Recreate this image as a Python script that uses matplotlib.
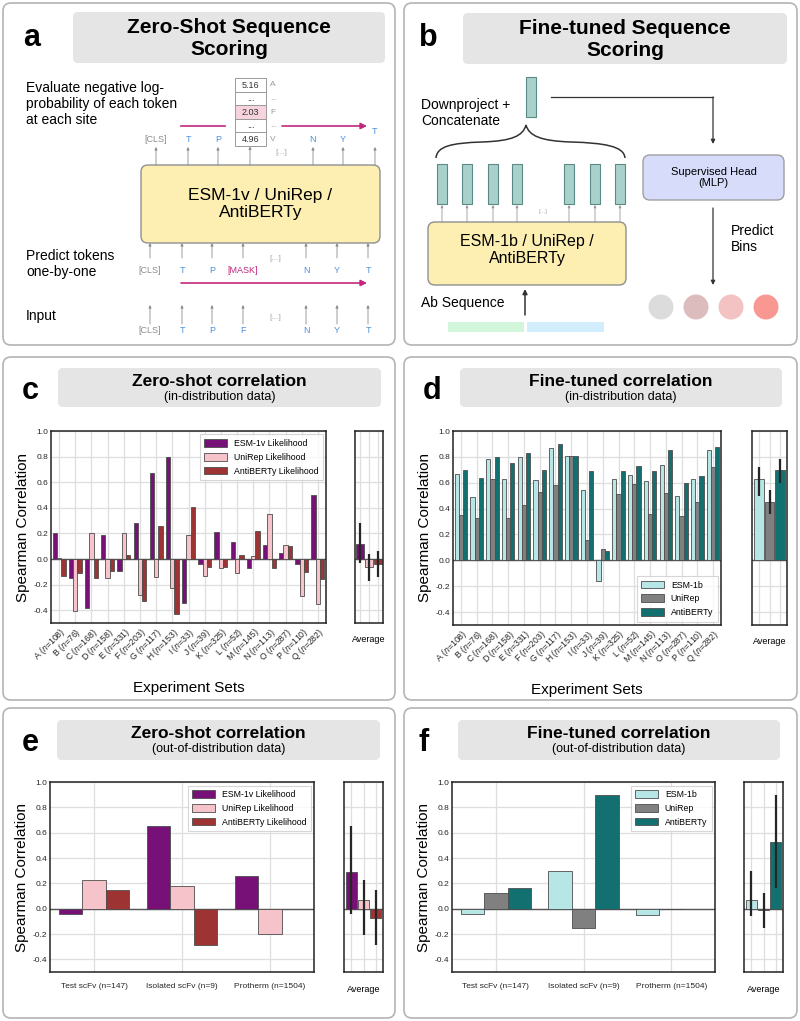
import numpy as np
import matplotlib
matplotlib.use("Agg")
import matplotlib.pyplot as plt
from matplotlib.patches import FancyBboxPatch, Rectangle, Circle, PathPatch
from matplotlib.path import Path

plt.rcParams['font.family'] = ['Liberation Sans', 'DejaVu Sans']
plt.rcParams['mathtext.fontset'] = 'custom'
plt.rcParams['mathtext.rm'] = 'Liberation Sans'
plt.rcParams['mathtext.it'] = 'Liberation Sans:italic'
plt.rcParams['axes.unicode_minus'] = False

# ---------------- data ----------------
exp_sets = ['A ($n$=108)', 'B ($n$=76)', 'C ($n$=168)', 'D ($n$=158)', 'E ($n$=331)',
            'F ($n$=203)', 'G ($n$=117)', 'H ($n$=153)', 'I ($n$=33)', 'J ($n$=39)',
            'K ($n$=325)', 'L ($n$=52)', 'M ($n$=145)', 'N ($n$=113)', 'O ($n$=287)',
            'P ($n$=110)', 'Q ($n$=282)']

zs_names = ['ESM-1v Likelihood', 'UniRep Likelihood', 'AntiBERTy Likelihood']
ft_names = ['ESM-1b', 'UniRep', 'AntiBERTy']

zs_esm = [0.20, -0.15, -0.38, 0.19, -0.09, 0.28, 0.67, 0.80, -0.34, -0.04, 0.21, 0.13, -0.07, 0.11, 0.05, -0.04, 0.50]
zs_uni = [0.005, -0.41, 0.20, -0.15, 0.20, -0.28, -0.14, -0.23, 0.19, -0.13, -0.07, -0.11, 0.02, 0.35, 0.11, -0.29, -0.35]
zs_anti = [-0.13, -0.11, -0.15, -0.09, 0.03, -0.33, 0.26, -0.43, 0.41, -0.06, -0.06, 0.03, 0.22, -0.07, 0.10, -0.10, -0.16]
zs_avg = [0.12, -0.06, -0.04]
zs_avg_lo = [-0.03, -0.17, -0.14]
zs_avg_hi = [0.28, 0.04, 0.06]

ft_esm = [0.67, 0.49, 0.78, 0.63, 0.80, 0.62, 0.87, 0.81, 0.54, -0.16, 0.63, 0.66, 0.61, 0.74, 0.50, 0.63, 0.85]
ft_uni = [0.35, 0.33, 0.63, 0.33, 0.43, 0.53, 0.58, 0.81, 0.16, 0.09, 0.51, 0.59, 0.36, 0.52, 0.34, 0.45, 0.72]
ft_anti = [0.70, 0.64, 0.80, 0.75, 0.83, 0.70, 0.90, 0.81, 0.69, 0.07, 0.69, 0.73, 0.69, 0.85, 0.60, 0.65, 0.88]
ft_avg = [0.63, 0.45, 0.70]
ft_avg_lo = [0.50, 0.36, 0.60]
ft_avg_hi = [0.72, 0.54, 0.78]

ood_sets = ['Test scFv (n=147)', 'Isolated scFv (n=9)', 'Protherm (n=1504)']
ood_zs_esm = [-0.04, 0.65, 0.26]
ood_zs_uni = [0.23, 0.18, -0.20]
ood_zs_anti = [0.145, -0.29, np.nan]
ood_zs_avg = [0.29, 0.07, -0.07]
ood_zs_avg_lo = [-0.04, -0.21, -0.29]
ood_zs_avg_hi = [0.65, 0.23, 0.15]

ood_ft_esm = [-0.04, 0.30, -0.05]
ood_ft_uni = [0.12, -0.15, -0.005]
ood_ft_anti = [0.16, 0.90, np.nan]
ood_ft_avg = [0.07, -0.01, 0.53]
ood_ft_avg_lo = [-0.06, -0.15, 0.16]
ood_ft_avg_hi = [0.30, 0.12, 0.90]

yticks = [-0.4, -0.2, 0.0, 0.2, 0.4, 0.6, 0.8, 1.0]

zs_colors = ['#771077', '#f7c3cb', '#9e3333']
ft_colors = ['#b7e6e6', '#808080', '#137070']

# ---------------- figure ----------------
W, H = 800, 1021
fig = plt.figure(figsize=(W / 100, H / 100), dpi=100)
bg = fig.add_axes([0, 0, 1, 1], zorder=0)
bg.set_xlim(0, W)
bg.set_ylim(H, 0)
bg.axis('off')


def px_axes(l, t, r, b):
    return fig.add_axes([l / W, 1 - b / H, (r - l) / W, (b - t) / H], zorder=2)


def rbox(x0, y0, x1, y1, fc='none', ec='#b4b4b4', lw=1.2, r=8, z=1):
    p = FancyBboxPatch((x0, y0), x1 - x0, y1 - y0,
                       boxstyle=f'round,pad=0,rounding_size={r}',
                       fc=fc, ec=ec, lw=lw, zorder=z)
    bg.add_patch(p)


def arrow(x0, y0, x1, y1, color='#8c8c8c', lw=0.8, ms=6):
    bg.annotate('', xy=(x1, y1), xytext=(x0, y0),
                arrowprops=dict(arrowstyle='-|>', color=color, lw=lw,
                                mutation_scale=ms, shrinkA=0, shrinkB=0))


# panel frames
for (x0, y0, x1, y1) in [(3, 3, 395, 345), (404, 3, 797, 345),
                         (3, 357, 395, 700), (404, 357, 797, 700),
                         (3, 708, 395, 1018), (404, 708, 797, 1018)]:
    rbox(x0, y0, x1, y1)

# headers
hdr = [
    ((73, 12, 385, 63), 'a', (32, 38), 'Zero-Shot Sequence\nScoring', None),
    ((463, 13, 787, 64), 'b', (428, 38), 'Fine-tuned Sequence\nScoring', None),
    ((58, 368, 381, 407), 'c', (30, 391), 'Zero-shot correlation', '(in-distribution data)'),
    ((460, 368, 782, 407), 'd', (432, 391), 'Fine-tuned correlation', '(in-distribution data)'),
    ((57, 720, 380, 760), 'e', (30, 743), 'Zero-shot correlation', '(out-of-distribution data)'),
    ((458, 720, 780, 760), 'f', (424, 743), 'Fine-tuned correlation', '(out-of-distribution data)'),
]
for (x0, y0, x1, y1), lab, (lx, ly), title, sub in hdr:
    rbox(x0, y0, x1, y1, fc='#e5e5e5', ec='none', r=5)
    bg.text(lx, ly, lab, fontsize=22, fontweight='bold', ha='center', va='center')
    cx = (x0 + x1) / 2
    if sub is None:
        bg.text(cx, (y0 + y1) / 2 + 1, title, fontsize=15, fontweight='bold',
                ha='center', va='center', linespacing=1.15)
    else:
        bg.text(cx, y0 + 13.5, title, fontsize=12.5, fontweight='bold', ha='center', va='center')
        bg.text(cx, y0 + 29, sub, fontsize=9, ha='center', va='center')

# ---------------- panel a diagram ----------------
MAG = '#c2287e'
BLUE = '#4a90d9'
GRAY = '#8c8c8c'
bg.text(26, 104, 'Evaluate negative log-\nprobability of each token\nat each site',
        fontsize=10, ha='left', va='center', linespacing=1.15)
# score column
rows = ['5.16', '...', '2.03', '...', '4.96']
side = ['A', '...', 'F', '...', 'V']
for i, (v, s) in enumerate(zip(rows, side)):
    y0 = 78 + i * 13.6
    fc = '#f7d3de' if i == 2 else 'white'
    bg.add_patch(Rectangle((235, y0), 31, 13.6, fc=fc, ec='#9a9a9a', lw=0.7, zorder=3))
    bg.text(250.5, y0 + 7, v, fontsize=6.5, ha='center', va='center', zorder=4,
            color='#333333')
    bg.text(270, y0 + 7, s, fontsize=6, ha='left', va='center', color='#9a9a9a')
# magenta arrow above
bg.plot([181, 225], [126, 126], color=MAG, lw=1.2)
arrow(282, 126, 367, 126, color=MAG, lw=1.2, ms=9)
# output tokens
top_x = [156, 188, 218, 250, 313, 343, 375]
top_tok = ['[CLS]', 'T', 'P', None, 'N', 'Y', 'T']
for x, t in zip(top_x, top_tok):
    if t is not None:
        yy = 132 if (x == 375) else 140
        bg.text(x, yy, t, fontsize=6.5, ha='center', va='center',
                color=GRAY if t == '[CLS]' else BLUE)
    arrow(x, 165, x, 147 if x != 250 else 146.5, lw=0.6, ms=4)
bg.text(281, 152, '[...]', fontsize=6, ha='center', va='center', color='#aaaaaa')
# model box
rbox(141, 165, 380, 243, fc='#fdefb2', ec='#8f8f8f', lw=1.0, r=7, z=2)
bg.text(260.5, 204, 'ESM-1v / UniRep /\nAntiBERTy', fontsize=12.5, ha='center',
        va='center', zorder=3, linespacing=1.15)
# predict row
bot_x = [150, 182, 212, 243, 306, 337, 368]
mid_tok = ['[CLS]', 'T', 'P', '[MASK]', 'N', 'Y', 'T']
in_tok = ['[CLS]', 'T', 'P', 'F', 'N', 'Y', 'T']
for x, t, s in zip(bot_x, mid_tok, in_tok):
    arrow(x, 258, x, 243, lw=0.6, ms=4)
    c = GRAY if t == '[CLS]' else (MAG if t == '[MASK]' else BLUE)
    bg.text(x, 270, t, fontsize=6.5, ha='center', va='center', color=c)
    arrow(x, 324, x, 305, lw=0.6, ms=4)
    bg.text(x, 330, s, fontsize=6.5, ha='center', va='center',
            color=GRAY if s == '[CLS]' else BLUE)
bg.text(275, 258, '[...]', fontsize=6, ha='center', va='center', color='#aaaaaa')
bg.text(275, 317, '[...]', fontsize=6, ha='center', va='center', color='#aaaaaa')
arrow(181, 283, 367, 283, color=MAG, lw=1.2, ms=9)
bg.text(26, 264, 'Predict tokens\none-by-one', fontsize=10, ha='left', va='center',
        linespacing=1.15)
bg.text(26, 316, 'Input', fontsize=10, ha='left', va='center')

# ---------------- panel b diagram ----------------
TEALF = '#a9d1cc'
TEALE = '#5b8a86'
bg.add_patch(Rectangle((526, 77), 10, 40, fc=TEALF, ec=TEALE, lw=0.8))
bg.text(421, 113, 'Downproject +\nConcatenate', fontsize=10, ha='left', va='center',
        linespacing=1.15)
bg.plot([551, 713], [97, 97], color='#333333', lw=0.9)
arrow(713, 97, 713, 144, color='#333333', lw=0.9, ms=6)
# brace
verts = [(436, 158), (437, 146), (452, 143), (482, 142),
         (512, 141), (523, 136), (526, 125),
         (529, 136), (541, 141), (571, 142),
         (604, 143), (624, 146), (625, 158)]
codes = [Path.MOVETO] + [Path.CURVE4] * 12
bg.add_patch(PathPatch(Path(verts, codes), fc='none', ec='#333333', lw=1.1))
emb_x = [442, 467, 493, 517, 569, 595, 620]
for x in emb_x:
    bg.add_patch(Rectangle((x - 5, 164), 10, 40, fc=TEALF, ec=TEALE, lw=0.8))
    arrow(x, 222, x, 205, lw=0.6, ms=3.5, color='#9a9a9a')
bg.text(543, 211, '[...]', fontsize=4.5, ha='center', va='center', color='#aaaaaa')
rbox(428, 222, 626, 285, fc='#fdefb2', ec='#8f8f8f', lw=1.0, r=7, z=2)
bg.text(527, 250, 'ESM-1b / UniRep /\nAntiBERTy', fontsize=11.5, ha='center', va='center',
        zorder=3, linespacing=1.1)
bg.text(421, 303, 'Ab Sequence', fontsize=10, ha='left', va='center')
arrow(525, 315, 525, 289, color='#333333', lw=1.1, ms=7)
bg.add_patch(Rectangle((448, 322), 76, 10, fc='#d2f6db', ec='none'))
bg.add_patch(Rectangle((527, 322), 77, 10, fc='#d2edfb', ec='none'))
rbox(643, 155, 784, 200, fc='#d6dcfa', ec='#a0a0a0', lw=1.0, r=7, z=2)
bg.text(713.5, 177.5, 'Supervised Head\n(MLP)', fontsize=8, ha='center', va='center',
        zorder=3, linespacing=1.1)
arrow(713, 208, 713, 285, color='#333333', lw=0.9, ms=6)
bg.text(731, 239, 'Predict\nBins', fontsize=10, ha='left', va='center', linespacing=1.15)
for x, c in zip([661, 696, 731, 766], ['#dcdcdc', '#dcbcbc', '#f3c3c3', '#f99893']):
    bg.add_patch(Circle((x, 307), 12.5, fc=c, ec='none'))


# ---------------- charts ----------------
def style_ax(ax):
    ax.set_facecolor('white')
    ax.set_ylim(-0.5, 1.0)
    ax.set_yticks(yticks)
    ax.grid(True, color='#dedede', lw=0.9)
    ax.set_axisbelow(True)
    for s in ax.spines.values():
        s.set_color('#222222')
        s.set_linewidth(1.1)
    ax.tick_params(length=0, labelsize=6, pad=2, colors='#262626')
    ax.axhline(0, color='#555555', lw=1.0, zorder=1.5)


def main_chart(ax, labels, series, colors, names, rot, legend_loc):
    style_ax(ax)
    x = np.arange(len(labels))
    w = 0.8 / len(series)
    for i, (vals, c, nm) in enumerate(zip(series, colors, names)):
        ax.bar(x + (i - 1) * w, vals, w, color=c, edgecolor='#4d4d4d', lw=0.6,
               label=nm, zorder=2)
    ax.set_xlim(-0.5, len(labels) - 0.5)
    ax.set_xticks(x)
    if rot:
        ax.set_xticklabels(labels, rotation=45, ha='right', rotation_mode='anchor')
        ax.tick_params(axis='x', labelsize=6.3)
    else:
        ax.set_xticklabels(labels)
        ax.tick_params(axis='x', pad=8)
    ax.set_ylabel('Spearman Correlation', fontsize=11, labelpad=3)
    leg = ax.legend(loc=legend_loc, fontsize=6.3, frameon=True, fancybox=False,
                    handlelength=2.6, handleheight=1.0, borderpad=0.5,
                    labelspacing=0.55, borderaxespad=0.4)
    leg.get_frame().set_edgecolor('#cccccc')
    leg.get_frame().set_linewidth(0.8)


def avg_chart(ax, avg, lo, hi, colors):
    style_ax(ax)
    w = 0.8 / 3
    xs = np.array([-w, 0, w])
    a = np.array(avg)
    yerr = [a - np.array(lo), np.array(hi) - a]
    ax.bar(xs, a, w * 0.9, color=colors, edgecolor='#4d4d4d', lw=0.6, zorder=2)
    ax.errorbar(xs, a, yerr=yerr, fmt='none', ecolor='#262626', elinewidth=1.6,
                capsize=0, zorder=3)
    ax.set_xlim(-0.43, 0.43)
    ax.set_xticks(xs)
    ax.set_xticklabels([])
    ax.set_yticklabels([])


ax_c = px_axes(51, 431, 326, 623)
main_chart(ax_c, exp_sets, [zs_esm, zs_uni, zs_anti], zs_colors, zs_names, True, 'upper right')
ax_c.set_xlabel('Experiment Sets', fontsize=11, labelpad=12)
ax_ca = px_axes(355, 431, 383, 623)
avg_chart(ax_ca, zs_avg, zs_avg_lo, zs_avg_hi, zs_colors)
ax_ca.set_xlabel('Average', fontsize=6.5, labelpad=7)

ax_d = px_axes(453, 431, 721, 625)
main_chart(ax_d, exp_sets, [ft_esm, ft_uni, ft_anti], ft_colors, ft_names, True, 'lower right')
ax_d.set_xlabel('Experiment Sets', fontsize=11, labelpad=12)
ax_da = px_axes(752, 431, 787, 625)
avg_chart(ax_da, ft_avg, ft_avg_lo, ft_avg_hi, ft_colors)
ax_da.set_xlabel('Average', fontsize=6.5, labelpad=7)

ax_e = px_axes(50, 782, 314, 972)
main_chart(ax_e, ood_sets, [ood_zs_esm, ood_zs_uni, ood_zs_anti], zs_colors, zs_names,
           False, 'upper right')
ax_ea = px_axes(344, 782, 383, 972)
avg_chart(ax_ea, ood_zs_avg, ood_zs_avg_lo, ood_zs_avg_hi, zs_colors)
ax_ea.set_xlabel('Average', fontsize=6.5, labelpad=7)

ax_f = px_axes(452, 782, 715, 972)
main_chart(ax_f, ood_sets, [ood_ft_esm, ood_ft_uni, ood_ft_anti], ft_colors, ft_names,
           False, 'upper right')
ax_fa = px_axes(744, 782, 783, 972)
avg_chart(ax_fa, ood_ft_avg, ood_ft_avg_lo, ood_ft_avg_hi, ft_colors)
ax_fa.set_xlabel('Average', fontsize=6.5, labelpad=7)

fig.savefig('out.png', dpi=100)
